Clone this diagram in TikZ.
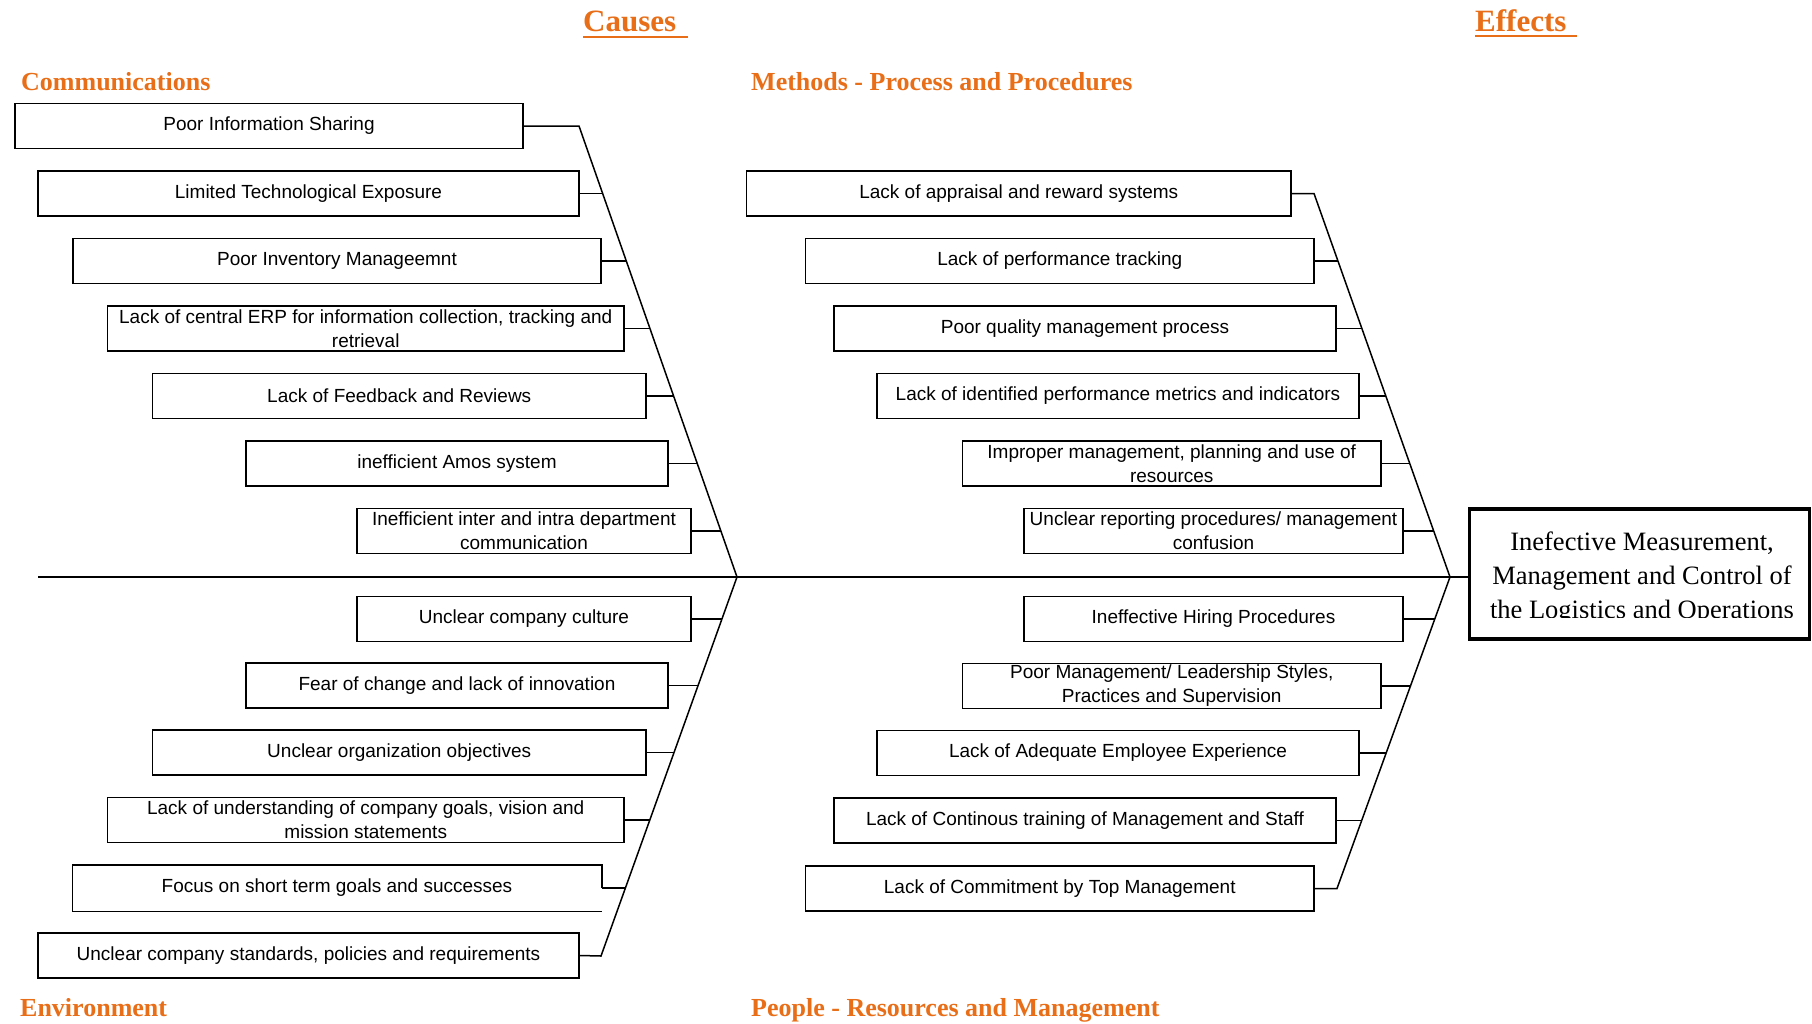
\documentclass[tikz,border=0pt]{standalone}
\usepackage{fontspec}
\setmainfont{Liberation Sans}
\newfontfamily\serifhdr{Liberation Serif}
\usetikzlibrary{calc,intersections}
\definecolor{hdrorange}{RGB}{232,110,24}
\tikzset{
  box/.style={draw=black, line width=1.5pt, inner sep=0pt, minimum height=45pt, align=center, font=\fontsize{19}{24}\selectfont},
  openbox/.style={box, draw=none},
  hdr/.style={anchor=base west, text=hdrorange, inner sep=0pt, font=\serifhdr\bfseries\fontsize{26}{30}\selectfont},
  ttl/.style={anchor=base west, text=hdrorange, inner sep=0pt, font=\serifhdr\bfseries\fontsize{31}{36}\selectfont},
  uline/.style={draw=hdrorange, line width=2pt},
  bone/.style={draw=black, line width=1.5pt, line join=miter},
  effbox/.style={draw=black, line width=3.5pt, inner sep=0pt, minimum width=340pt, minimum height=130pt},
  efftxt/.style={anchor=base, inner sep=0pt, font=\serifhdr\fontsize{26.5}{34}\selectfont},
}
\begin{document}
\begin{tikzpicture}[x=1pt,y=-1pt]
\useasboundingbox (0,0) rectangle (1812,1023);

% titles and category headers
\node[ttl] (causes) at (583,31.5) {Causes};
\draw[uline] ($(causes.base west)+(0,5)$) -- ($(causes.base east)+(12,5)$);
\node[ttl] (effects) at (1475,31) {Effects};
\draw[uline] ($(effects.base west)+(0,5)$) -- ($(effects.base east)+(10,5)$);
\node[hdr] (comm) at (21,90) {Communications};
\node[hdr] (methods) at (751,90) {Methods - Process and Procedures};
\node[hdr] (env) at (20,1016) {Environment};
\node[hdr] (people) at (751,1016) {People - Resources and Management};

% left upper (Communications)
\node[box, minimum width=508] (l1) at (269,126) {Poor Information Sharing};
\node[box, minimum width=541] (l2) at (308.5,193.5) {Limited Technological Exposure};
\node[box, minimum width=528] (l3) at (337,261) {Poor Inventory Manageemnt};
\node[box, minimum width=516.5] (l4) at (365.75,328.5) {Lack of central ERP for information collection, tracking and\\retrieval};
\node[box, minimum width=493.5] (l5) at (399.25,396) {Lack of Feedback and Reviews};
\node[box, minimum width=422] (l6) at (457,463.5) {inefficient Amos system};
\node[box, minimum width=334] (l7) at (524,531) {Inefficient inter and intra department\\communication};

% left lower (Environment)
\node[box, minimum width=334] (l8) at (524,619) {Unclear company culture};
\node[box, minimum width=422] (l9) at (457,685.5) {Fear of change and lack of innovation};
\node[box, minimum width=493.5] (l10) at (399.25,752.5) {Unclear organization objectives};
\node[box, minimum width=516.5] (l11) at (365.75,820) {Lack of understanding of company goals, vision and\\mission statements};
\node[openbox, minimum width=528] (l12) at (337,888) {Focus on short term goals and successes};
\draw[bone] (l12.east) -- (l12.north east) -- (l12.north west) -- (l12.south west) -- (l12.south east);
\node[box, minimum width=541] (l13) at (308.5,955.5) {Unclear company standards, policies and requirements};

% right upper (Methods)
\node[box, minimum width=544.5] (r1) at (1018.75,193.5) {Lack of appraisal and reward systems};
\node[box, minimum width=508.5] (r2) at (1059.75,261) {Lack of performance tracking};
\node[box, minimum width=502] (r3) at (1085,328.5) {Poor quality management process};
\node[box, minimum width=482] (r4) at (1118,396) {Lack of identified performance metrics and indicators};
\node[box, minimum width=418.5] (r5) at (1171.75,463.5) {Improper management, planning and use of\\resources};
\node[box, minimum width=379] (r6) at (1213.5,531) {Unclear reporting procedures/ management\\confusion};

% right lower (People)
\node[box, minimum width=379] (r7) at (1213.5,619) {Ineffective Hiring Procedures};
\node[box, minimum width=418.5] (r8) at (1171.75,686) {Poor Management/ Leadership Styles,\\Practices and Supervision};
\node[box, minimum width=482] (r9) at (1118,753) {Lack of Adequate Employee Experience};
\node[box, minimum width=502] (r10) at (1085,820.5) {Lack of Continous training of Management and Staff};
\node[box, minimum width=508.5] (r11) at (1059.75,888.5) {Lack of Commitment by Top Management};

% effect box
\node[effbox] (effect) at (1639.25,574) {};
\begin{scope}
  \clip (1470,510) rectangle (1808,617.5);
  \node[efftxt] (e1) at (1642,550) {Inefective Measurement,};
  \node[efftxt] (e2) at (1642,584) {Management and Control of};
  \node[efftxt] (e3) at (1642,618) {the Logistics and Operations};
\end{scope}

% skeleton
\coordinate (tUL) at (579,126);
\coordinate (vL) at (737,577);
\coordinate (bLL) at (601,956);
\coordinate (tUR) at (1314,193.5);
\coordinate (vR) at (1450,577);
\coordinate (bLR) at (1337,888.5);
\coordinate (spL) at (38,577);

\draw[bone] (spL) -- (spL -| effect.west);
\draw[bone] (l1.east) -- (tUL) -- (vL) -- (bLL) -- (l13.east);
\draw[bone] (r1.east) -- (tUR) -- (vR) -- (bLR) -- (r11.east);

\path[name path=dUL] (tUL) -- (vL);
\path[name path=dLL] (vL) -- (bLL);
\path[name path=dUR] (tUR) -- (vR);
\path[name path=dLR] (vR) -- (bLR);

\foreach \n in {l2,l3,l4,l5,l6,l7} {
  \path[name path=hray] (\n.east) -- ++(120,0);
  \draw[bone, name intersections={of=hray and dUL}] (\n.east) -- (intersection-1);
}
\foreach \n in {l8,l9,l10,l11,l12} {
  \path[name path=hray] (\n.east) -- ++(120,0);
  \draw[bone, name intersections={of=hray and dLL}] (\n.east) -- (intersection-1);
}
\foreach \n in {r2,r3,r4,r5,r6} {
  \path[name path=hray] (\n.east) -- ++(120,0);
  \draw[bone, name intersections={of=hray and dUR}] (\n.east) -- (intersection-1);
}
\foreach \n in {r7,r8,r9,r10} {
  \path[name path=hray] (\n.east) -- ++(120,0);
  \draw[bone, name intersections={of=hray and dLR}] (\n.east) -- (intersection-1);
}
\end{tikzpicture}
\end{document}
